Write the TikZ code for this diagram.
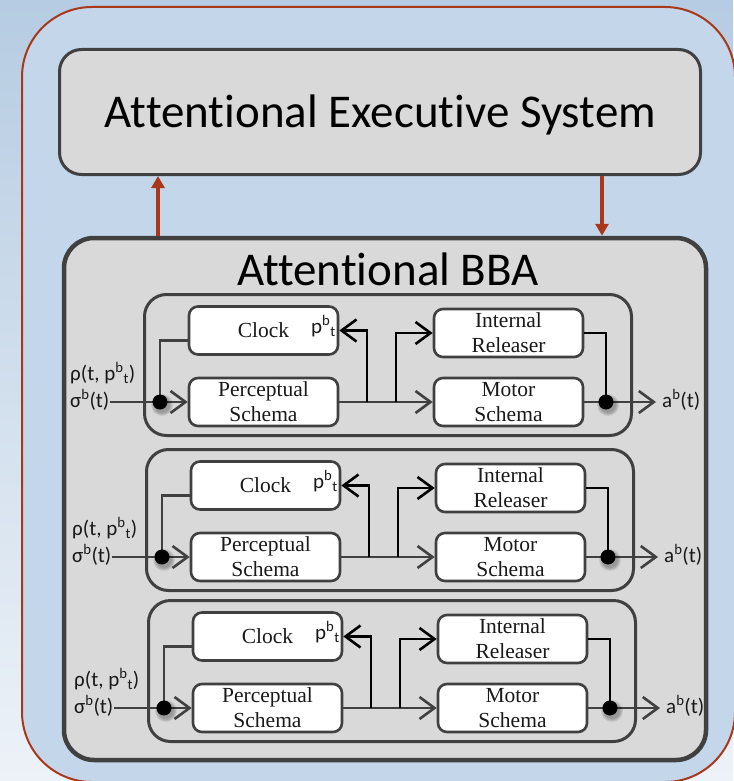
\documentclass[tikz,border=0pt]{standalone}
\usepackage{fontspec}
\setmainfont{Liberation Serif}
\newfontfamily\labelfont[Ligatures=NoCommon]{Carlito}
\usetikzlibrary{arrows.meta,calc}

\definecolor{edgegray}{HTML}{404040}
\definecolor{panelgray}{HTML}{D9D9D9}
\definecolor{rust}{HTML}{A9381B}
\definecolor{skyfill}{HTML}{C4D7EA}
\definecolor{skytop}{HTML}{B6CCE2}
\definecolor{skybot}{HTML}{EDF2F8}

\begin{document}
\begin{tikzpicture}[x=1pt,y=-1pt,
  outerframe/.style={draw=rust, fill=skyfill, line width=2pt, rounded corners=70pt,
    minimum width=713pt, minimum height=775pt, inner sep=0pt},
  bigpanel/.style={draw=edgegray, fill=panelgray, line width=3pt, rounded corners=22pt, inner sep=0pt},
  modframe/.style={draw=edgegray, line width=3pt, rounded corners=22pt, inner sep=0pt,
    minimum width=487pt, minimum height=141pt},
  schema/.style={draw=edgegray, fill=white, line width=2.6pt, rounded corners=9pt, inner sep=0pt,
    minimum width=149pt, minimum height=48pt, align=center, text=black!90,
    font=\fontsize{21.5}{25}\selectfont},
  sig/.style={inner sep=0pt, text=black!90, font=\labelfont\fontsize{21}{24}\selectfont},
  title/.style={inner sep=0pt, text=black, font=\labelfont\fontsize{47}{56}\selectfont},
  wire/.style={draw=edgegray, line width=2.6pt},
  darkwire/.style={draw=black, line width=2.6pt},
  barb/.style={-{Straight Barb[length=15pt,width=22pt]}},
  feed/.style={draw=rust, line width=3.5pt, -{Triangle[length=12pt,width=13pt]}},
  junction/.style={fill=black},
  junctionshadow/.style={fill=black, opacity=0.08}
]
\useasboundingbox (0,0) rectangle (733,781);
\fill[top color=skytop, bottom color=skybot] (0,0) rectangle (733,781);

% outer frame with the executive layer and the behaviour layer
\node[outerframe] (frame) at (378.5,394.5) {};
\node[bigpanel, minimum width=641pt, minimum height=125pt] (aes) at (380,112) {};
\node[title, anchor=base] (aestext) at (380.5,128) {Attentional Executive System};
\node[bigpanel, line width=4.5pt, rounded corners=30pt, minimum width=642pt, minimum height=522pt] (bba) at (385,499) {};
\node[title, anchor=base] (bbatext) at (388,285) {Attentional BBA};

% links between the two layers
\coordinate (upx) at (158,0);
\coordinate (dnx) at (602,0);
\draw[feed] (bba.north -| upx) -- (aes.south -| upx);
\draw[feed] (aes.south -| dnx) -- (bba.north -| dnx);

% three identical behaviour modules
\foreach \i/\dx/\dy in {1/0/0,2/2/155,3/4/306}{
  \node[modframe] (mod\i) at (388+\dx,365+\dy) {};
  \node[schema] (clk\i) at (263.5+\dx,330.5+\dy) {Clock};
  \node[schema] (per\i) at (263.5+\dx,402+\dy) {Perceptual\\Schema};
  \node[schema] (rel\i) at (508.5+\dx,333+\dy) {Internal\\Releaser};
  \node[schema] (mot\i) at (508.5+\dx,402+\dy) {Motor\\Schema};
  \node[sig, anchor=base east] (pt\i) at (336+\dx,333+\dy) {p\textsuperscript{b}\textsubscript{t}};
  \node[sig, anchor=base west] (rho\i) at (70+\dx,380+\dy) {ρ(t, p\textsuperscript{b}\textsubscript{t})};
  \node[sig, anchor=base west] (sig\i) at (70+\dx,407+\dy) {σ\textsuperscript{b}(t)};
  \node[sig, anchor=base west] (act\i) at (662+\dx,407+\dy) {a\textsuperscript{b}(t)};

  \coordinate (jin\i) at (160+\dx,402+\dy);
  \coordinate (jclk\i) at (367+\dx,402+\dy);
  \coordinate (jrel\i) at (396+\dx,402+\dy);
  \coordinate (jout\i) at (606+\dx,402+\dy);
  \coordinate (end\i) at (656+\dx,402+\dy);

  % input side
  \draw[wire] (sig\i.east |- jin\i) -- (jin\i);
  \draw[wire] ($(clk\i.west)+(0,10)$) -| (jin\i);
  \draw[wire, barb] (jin\i) -- (per\i.west);
  % perception to action
  \draw[wire, barb] (per\i.east) -- (mot\i.west);
  \draw[darkwire, barb] (jclk\i) |- (clk\i.east);
  \draw[darkwire, barb] (jrel\i) |- (rel\i.west);
  % output side
  \draw[darkwire] (rel\i.east) -| (jout\i);
  \draw[wire, barb] (mot\i.east) -- (end\i);
  % junction dots with a soft drop shadow
  \foreach \r in {11,10,9,8}{
    \fill[junctionshadow] ($(jin\i)+(2,3)$) circle (\r pt);
    \fill[junctionshadow] ($(jout\i)+(2,3)$) circle (\r pt);
  }
  \fill[junction] (jin\i) circle (7.5pt);
  \fill[junction] (jout\i) circle (7.5pt);
}
\end{tikzpicture}
\end{document}
